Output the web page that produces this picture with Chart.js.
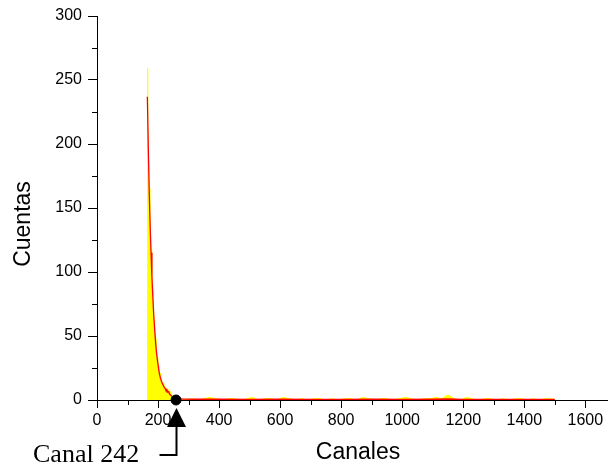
<!DOCTYPE html>
<html>
<head>
<meta charset="utf-8">
<script src="https://cdn.jsdelivr.net/npm/chart.js@4.4.0/dist/chart.umd.min.js"></script>
<style>
  html, body { margin: 0; padding: 0; background: #fff; }
  #wrap { width: 613px; height: 467px; }
</style>
</head>
<body>
<div id="wrap"><canvas id="spectrum" width="613" height="467"></canvas></div>
<script>
// measured spectrum (yellow area)
const histChannels = [165, 165, 166, 167, 169, 171, 173, 175, 177, 179, 181, 183, 185, 187, 189, 191, 193, 195, 197, 199, 201,
  203, 205, 207, 209, 211, 213, 215, 217, 219, 221, 223, 225, 227, 229, 231, 233, 235, 237, 239, 241,
  243, 245, 247, 250, 253, 256, 260,
  270, 290, 310, 330, 350, 370, 390, 410, 430, 450, 470, 490, 510, 530, 550, 570, 590, 610, 630, 650,
  670, 690, 710, 730, 750, 770, 790, 810, 830, 850, 870, 890, 910, 930, 950, 970, 990, 1010, 1030, 1050,
  1070, 1090, 1110, 1130, 1149, 1170, 1190, 1210, 1230, 1250, 1270, 1290, 1310, 1330, 1350, 1370, 1390, 1410,
  1430, 1450, 1470, 1490, 1500];
const histCounts = [0, 259, 252, 215, 185, 165, 148, 128, 118, 100, 90, 82, 70, 62, 58, 48, 42, 40, 33, 30, 27,
  25, 20, 21, 16, 17, 13, 12, 13, 10, 9, 10, 9, 7, 9, 6, 8, 5, 7, 4, 6,
  3, 4, 3, 2, 2, 1, 0,
  1, 0, 1, 0, 1, 2, 1, 0, 1, 1, 0, 1, 2, 0, 1, 1, 0, 2, 1, 0,
  1, 0, 1, 1, 0, 1, 0, 1, 1, 0, 2, 1, 0, 1, 1, 0, 1, 2, 1, 0,
  1, 1, 2, 1, 4, 1, 0, 2, 1, 0, 1, 1, 0, 1, 0, 1, 1, 0,
  1, 0, 1, 1, 0];

// smoothed curve (red line)
const fitChannels = [165, 168, 171, 174, 177, 180, 183, 186, 189, 192, 195, 198, 201, 204, 208, 212, 216, 220,
  223, 226, 229, 232, 235, 238, 241, 245, 250, 255, 260, 280, 320, 400, 500, 600, 700, 800, 900, 1000,
  1100, 1150, 1200, 1300, 1400, 1500];
const fitCounts = [237, 198, 164, 137, 115, 96, 80, 66, 55, 45, 37, 31, 26, 21, 17, 14, 12, 10,
  9, 7.5, 8, 6, 6.5, 4.5, 4, 3, 2, 1.5, 1, 0.7, 0.6, 0.6, 0.5, 0.6, 0.5, 0.5, 0.6, 0.5,
  0.6, 0.8, 0.5, 0.5, 0.5, 0.5];

const markChannel = 259;
const markLabel = 'Canal 242';

const xTicks = [0, 200, 400, 600, 800, 1000, 1200, 1400, 1600];
const xMinorTicks = [100, 300, 500, 700, 900, 1100, 1300, 1500];
const yTicks = [0, 50, 100, 150, 200, 250, 300];
const yMinorTicks = [25, 75, 125, 175, 225, 275];

const toPoints = (xs, ys) => xs.map((x, i) => ({ x: x, y: ys[i] }));

const sansFont = 'Liberation Sans, Arial, sans-serif';
const serifFont = 'Liberation Serif, Times New Roman, serif';

const extras = {
  id: 'extras',
  afterDraw(chart) {
    const ctx = chart.ctx;
    const xs = chart.scales.x;
    const ys = chart.scales.y;
    const area = chart.chartArea;
    ctx.save();
    ctx.strokeStyle = '#000';
    ctx.lineWidth = 1;
    // minor ticks
    ctx.beginPath();
    xMinorTicks.forEach(v => {
      const px = Math.round(xs.getPixelForValue(v)) + 0.5;
      ctx.moveTo(px, area.bottom);
      ctx.lineTo(px, area.bottom + 5);
    });
    yMinorTicks.forEach(v => {
      const py = Math.round(ys.getPixelForValue(v)) + 0.5;
      ctx.moveTo(area.left, py);
      ctx.lineTo(area.left - 5, py);
    });
    ctx.stroke();

    // axis titles
    ctx.fillStyle = '#000';
    ctx.font = '23px ' + sansFont;
    ctx.textAlign = 'center';
    ctx.textBaseline = 'middle';
    ctx.fillText('Canales', 358, 453);
    ctx.save();
    ctx.translate(24, 224);
    ctx.rotate(-Math.PI / 2);
    ctx.fillText('Cuentas', 0, 0);
    ctx.restore();

    // arrow pointing at the marked channel
    const mx = Math.round(xs.getPixelForValue(markChannel)) + 0.5;
    ctx.beginPath();
    ctx.moveTo(mx, 408);
    ctx.lineTo(mx + 9.5, 427);
    ctx.lineTo(mx - 9.5, 427);
    ctx.closePath();
    ctx.fill();
    ctx.lineWidth = 2;
    ctx.beginPath();
    ctx.moveTo(mx, 426);
    ctx.lineTo(mx, 455);
    ctx.lineTo(mx - 17, 455);
    ctx.stroke();

    ctx.font = '26px ' + serifFont;
    ctx.textAlign = 'left';
    ctx.textBaseline = 'alphabetic';
    ctx.fillText(markLabel, 33, 462);
    ctx.restore();
  }
};

new Chart(document.getElementById('spectrum'), {
  type: 'scatter',
  data: {
    datasets: [
      {
        label: markLabel,
        data: [{ x: markChannel, y: 0 }],
        pointRadius: 5,
        pointBackgroundColor: '#000',
        pointBorderColor: '#000',
        showLine: false,
        clip: false,
        order: 0
      },
      {
        label: 'Ajuste',
        data: toPoints(fitChannels, fitCounts),
        showLine: true,
        borderColor: '#ff0000',
        borderWidth: 1.3,
        pointRadius: 0,
        fill: false,
        tension: 0,
        order: 1
      },
      {
        label: 'Espectro',
        data: toPoints(histChannels, histCounts),
        showLine: true,
        borderColor: '#ffff00',
        backgroundColor: '#ffff00',
        borderWidth: 1,
        pointRadius: 0,
        fill: 'origin',
        tension: 0,
        order: 2
      }
    ]
  },
  options: {
    responsive: false,
    animation: false,
    devicePixelRatio: 1,
    layout: { padding: { top: 16, left: 0, right: 0, bottom: 0 } },
    plugins: { legend: { display: false }, tooltip: { enabled: false } },
    scales: {
      x: {
        type: 'linear',
        min: 0,
        max: 1671,
        afterBuildTicks: s => { s.ticks = xTicks.map(v => ({ value: v })); },
        afterFit: s => { s.height = 67; s.paddingLeft = 0; s.paddingRight = 0; },
        ticks: {
          font: { family: sansFont, size: 16 }, color: '#000', padding: 3, maxRotation: 0, autoSkip: false,
          callback: v => String(v)
        },
        grid: { drawOnChartArea: false, tickLength: 8, color: '#000' },
        border: { color: '#000' }
      },
      y: {
        type: 'linear',
        min: 0,
        max: 300,
        afterBuildTicks: s => { s.ticks = yTicks.map(v => ({ value: v })); },
        afterFit: s => { s.width = 97; s.paddingTop = 0; s.paddingBottom = 0; },
        ticks: { font: { family: sansFont, size: 16 }, color: '#000', padding: 6, callback: v => String(v) },
        grid: { drawOnChartArea: false, tickLength: 9, color: '#000' },
        border: { color: '#000' }
      }
    }
  },
  plugins: [extras]
});
</script>
</body>
</html>
